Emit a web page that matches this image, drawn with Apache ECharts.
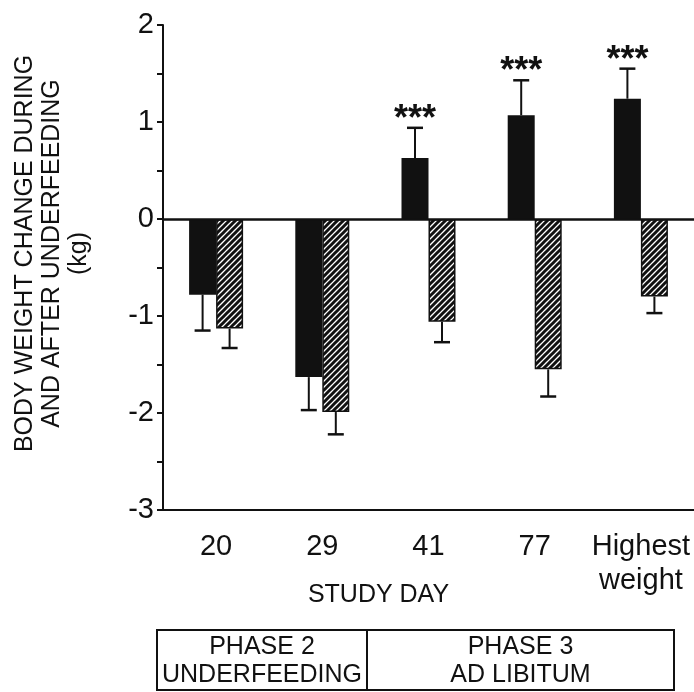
<!DOCTYPE html>
<html>
<head>
<meta charset="utf-8">
<script src="https://cdn.jsdelivr.net/npm/echarts@6/dist/echarts.min.js"></script>
<style>
  html, body { margin: 0; padding: 0; background: #ffffff; }
  #chart { width: 694px; height: 692px; }
</style>
</head>
<body>
<div id="chart"></div>
<script>
// ---- data ----
const categories = ['20', '29', '41', '77', 'Highest\nweight'];
const duringValues = [-0.78, -1.63, 0.63, 1.07, 1.24];   // solid black bars
const duringErrors = [0.37, 0.34, 0.31, 0.36, 0.31];
const afterValues = [-1.13, -1.99, -1.06, -1.55, -0.80]; // hatched bars
const afterErrors = [0.20, 0.23, 0.21, 0.28, 0.17];
const significance = ['', '', '***', '***', '***'];
const yTicks = { min: -3, max: 2, step: 1 };
const phaseLabels = ['PHASE 2\nUNDERFEEDING', 'PHASE 3\nAD LIBITUM'];

const FONT = '"Liberation Sans", Arial, Helvetica, sans-serif';
const INK = '#111111';
const BAR_W = 27;

function makeHatch() {
  const s = 6;
  const c = document.createElement('canvas');
  c.width = s; c.height = s;
  const g = c.getContext('2d');
  g.fillStyle = '#ffffff';
  g.fillRect(0, 0, s, s);
  g.strokeStyle = INK;
  g.lineWidth = 3;
  g.beginPath();
  g.moveTo(0, s); g.lineTo(s, 0);
  g.moveTo(-s / 2, s / 2); g.lineTo(s / 2, -s / 2);
  g.moveTo(s / 2, s * 1.5); g.lineTo(s * 1.5, s / 2);
  g.stroke();
  return c;
}

function errorSeries(values, errors, side, withSig) {
  return {
    type: 'custom',
    z: 5,
    silent: true,
    data: values.map((v, i) => [i, v, errors[i]]),
    encode: { x: 0, y: 1 },
    renderItem: function (params, api) {
      const i = api.value(0);
      const v = api.value(1);
      const e = api.value(2);
      const end = v >= 0 ? v + e : v - e;
      const base = api.coord([i, v]);
      const tip = api.coord([i, end]);
      const x = base[0] + side * BAR_W / 2;
      const children = [
        { type: 'line', shape: { x1: x, y1: base[1], x2: x, y2: tip[1] },
          style: { stroke: INK, lineWidth: 2 } },
        { type: 'line', shape: { x1: x - 8, y1: tip[1], x2: x + 8, y2: tip[1] },
          style: { stroke: INK, lineWidth: 2.5 } }
      ];
      if (withSig && significance[params.dataIndex]) {
        children.push({
          type: 'text',
          style: {
            x: x, y: tip[1] + 10,
            text: significance[params.dataIndex],
            fill: INK,
            font: 'bold 36px ' + FONT,
            align: 'center',
            verticalAlign: 'bottom'
          }
        });
      }
      return { type: 'group', children: children };
    }
  };
}

const chart = echarts.init(document.getElementById('chart'), null, { renderer: 'canvas' });

const tableLeft = 157, tableDiv = 367, tableRight = 674, tableTop = 630, tableBottom = 690;

chart.setOption({
  backgroundColor: '#ffffff',
  animation: false,
  textStyle: { fontFamily: FONT, color: INK },
  grid: { left: 163, right: 0, top: 25, bottom: 182, containLabel: false },
  xAxis: {
    type: 'category',
    data: categories,
    name: 'STUDY DAY',
    nameLocation: 'middle',
    nameGap: 73,
    nameMoveOverlap: false,
    nameTextStyle: { fontSize: 25, color: INK, fontFamily: FONT, padding: [0, 100, 0, 0] },
    axisLine: { show: true, onZero: false, lineStyle: { color: INK, width: 2 } },
    axisTick: { show: false },
    axisLabel: { interval: 0, hideOverlap: false, fontSize: 29, color: INK, fontFamily: FONT, margin: 20, lineHeight: 34 },
    splitLine: { show: false }
  },
  yAxis: {
    type: 'value',
    min: yTicks.min,
    max: yTicks.max,
    interval: yTicks.step,
    name: 'BODY WEIGHT CHANGE DURING\nAND AFTER UNDERFEEDING\n(kg)',
    nameLocation: 'middle',
    nameRotate: 90,
    nameGap: 70,
    nameMoveOverlap: false,
    nameTextStyle: { fontSize: 25, lineHeight: 27, color: INK, fontFamily: FONT, align: 'center', padding: [0, 0, 0, 28] },
    axisLine: { show: true, lineStyle: { color: INK, width: 2 } },
    axisTick: { show: true, length: 6, lineStyle: { color: INK, width: 2 } },
    minorTick: { show: true, splitNumber: 2, length: 6, lineStyle: { color: INK, width: 2 } },
    axisLabel: { fontSize: 29, color: INK, fontFamily: FONT, margin: 9 },
    splitLine: { show: false },
    minorSplitLine: { show: false }
  },
  series: [
    {
      name: 'During',
      type: 'bar',
      data: duringValues,
      barWidth: BAR_W,
      barGap: '0%',
      itemStyle: { color: INK },
      markLine: {
        silent: true,
        symbol: 'none',
        label: { show: false },
        lineStyle: { color: INK, width: 2.5, type: 'solid' },
        data: [{ yAxis: 0 }]
      }
    },
    {
      name: 'After',
      type: 'bar',
      data: afterValues,
      barWidth: BAR_W,
      barGap: '0%',
      itemStyle: { color: { image: makeHatch(), repeat: 'repeat' }, borderColor: INK, borderWidth: 1.5 }
    },
    errorSeries(duringValues, duringErrors, -1, true),
    errorSeries(afterValues, afterErrors, 1, false)
  ],
  graphic: [
    { type: 'rect', silent: true,
      shape: { x: tableLeft, y: tableTop, width: tableRight - tableLeft, height: tableBottom - tableTop },
      style: { fill: 'none', stroke: INK, lineWidth: 2 } },
    { type: 'line', silent: true,
      shape: { x1: tableDiv, y1: tableTop, x2: tableDiv, y2: tableBottom },
      style: { stroke: INK, lineWidth: 2 } },
    { type: 'text', silent: true,
      style: { x: (tableLeft + tableDiv) / 2, y: (tableTop + tableBottom) / 2 + 1, text: phaseLabels[0],
        font: '25px ' + FONT, lineHeight: 28, fill: INK, align: 'center', verticalAlign: 'middle' } },
    { type: 'text', silent: true,
      style: { x: (tableDiv + tableRight) / 2, y: (tableTop + tableBottom) / 2 + 1, text: phaseLabels[1],
        font: '25px ' + FONT, lineHeight: 28, fill: INK, align: 'center', verticalAlign: 'middle' } }
  ]
});
</script>
</body>
</html>
